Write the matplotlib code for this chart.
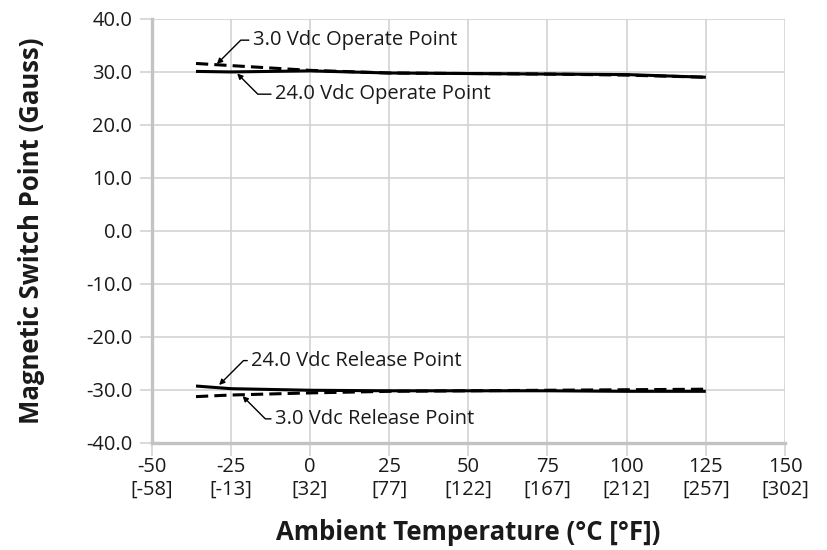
import matplotlib
matplotlib.use("Agg")
import matplotlib.pyplot as plt

plt.rcParams["font.family"] = ["Open Sans", "DejaVu Sans"]

# temperatures (deg C) and switch points (Gauss)
temps = [-36, -25, 0, 25, 50, 75, 100, 125]
op_24v = [30.1, 30.0, 30.2, 29.8, 29.7, 29.6, 29.5, 29.0]
op_3v = [31.6, 31.2, 30.3, 29.8, 29.7, 29.6, 29.4, 29.0]
rel_24v = [-29.3, -29.8, -30.1, -30.2, -30.2, -30.2, -30.3, -30.3]
rel_3v = [-31.3, -31.0, -30.6, -30.3, -30.2, -30.1, -30.0, -29.9]

x_ticks = [-50, -25, 0, 25, 50, 75, 100, 125, 150]
x_ticklabels = ["-50\n[-58]", "-25\n[-13]", "0\n[32]", "25\n[77]", "50\n[122]",
                "75\n[167]", "100\n[212]", "125\n[257]", "150\n[302]"]
y_ticks = [-40, -30, -20, -10, 0, 10, 20, 30, 40]

# (label, text xy, arrow tip xy, angleB)
notes = [
    ("3.0 Vdc Operate Point", (-18.0, 36.0), (-29.4, 31.5), 45),
    ("24.0 Vdc Operate Point", (-11.0, 25.8), (-23.0, 29.7), -45),
    ("24.0 Vdc Release Point", (-18.5, -24.5), (-28.7, -29.1), 45),
    ("3.0 Vdc Release Point", (-11.0, -35.5), (-21.3, -31.2), -45),
]

grid_c = "#d0d0d0"
spine_c = "#c3c3c3"
txt_c = "#1a1a1a"

fig = plt.figure(figsize=(8.27, 5.50), dpi=100)
ax = fig.add_axes([0.1834, 0.1951, 0.7658, 0.7704])

ax.plot(temps, op_24v, color="black", lw=2.2, solid_capstyle="butt", zorder=3)
ax.plot(temps, op_3v, color="black", lw=2.2, ls=(0, (4, 2)), zorder=3)
ax.plot(temps, rel_24v, color="black", lw=2.2, solid_capstyle="butt", zorder=3)
ax.plot(temps, rel_3v, color="black", lw=2.2, ls=(0, (4, 2)), zorder=3)

for label, xytext, xy, angle_b in notes:
    ax.annotate(label, xy=xy, xytext=xytext, fontsize=14.5, color=txt_c,
                ha="left", va="center",
                arrowprops=dict(arrowstyle="-|>", color="black", lw=1.0,
                                mutation_scale=8, shrinkA=1, shrinkB=0,
                                relpos=(0, 0.5),
                                connectionstyle=f"angle,angleA=0,angleB={angle_b},rad=0"))

ax.set_xlim(-50, 150)
ax.set_ylim(-40, 40)
ax.set_xticks(x_ticks)
ax.set_xticklabels(x_ticklabels)
ax.set_yticks(y_ticks)
ax.set_yticklabels([f"{v:.1f}" for v in y_ticks])

ax.grid(True, color=grid_c, lw=1.1)
ax.set_axisbelow(True)
for side in ("top", "right"):
    ax.spines[side].set_visible(False)
for side in ("left", "bottom"):
    ax.spines[side].set_color(spine_c)
    ax.spines[side].set_linewidth(2.4)
ax.tick_params(axis="both", colors=grid_c, length=9, width=1.1, labelsize=14.5,
               labelcolor=txt_c)
ax.tick_params(axis="x", pad=1)
ax.tick_params(axis="y", pad=5)

ax.set_xlabel("Ambient Temperature (°C [°F])", fontsize=18.5, fontweight="bold",
              color=txt_c, va="center")
ax.set_ylabel("Magnetic Switch Point (Gauss)", fontsize=18.5, fontweight="bold",
              color=txt_c, va="center")
ax.xaxis.set_label_coords(0.5, -0.211)
ax.yaxis.set_label_coords(-0.19, 0.5)

fig.savefig("out.png", dpi=100)
